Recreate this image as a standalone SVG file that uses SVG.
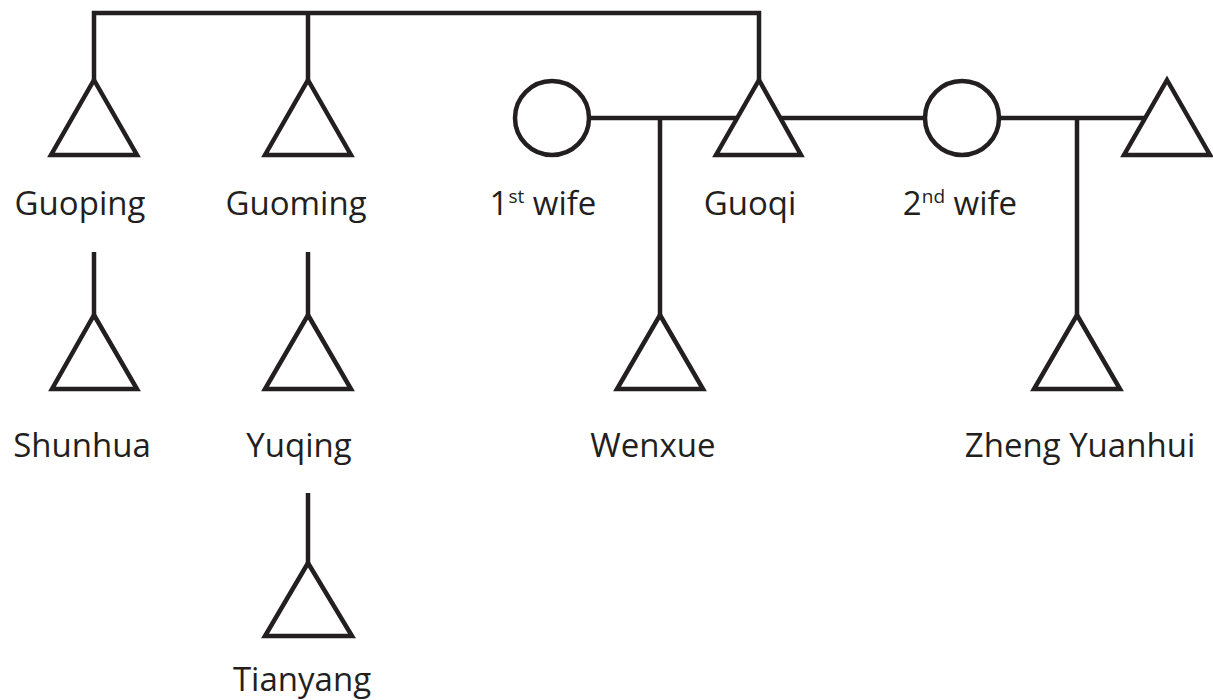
<svg xmlns="http://www.w3.org/2000/svg" width="1213" height="700" viewBox="0 0 1213 700">
  <style>
    .ln { fill: none; stroke: #231f20; stroke-width: 4.5; stroke-linecap: butt; }
    .sym { fill: #ffffff; stroke: #231f20; stroke-width: 4.5; stroke-linejoin: miter; }
    .lbl { font-family: "Open Sans", "Noto Sans", sans-serif; font-size: 33px; fill: #231f20; text-anchor: middle; }
    .sup { font-size: 19px; }
  </style>
  <rect width="1213" height="700" fill="#ffffff"/>

  <!-- kinship lines -->
  <g id="connectors">
    <polyline class="ln" points="94,80 94,13 759,13 759,80"/>
    <line class="ln" x1="308" y1="13" x2="308" y2="80"/>
    <line class="ln" x1="590" y1="118" x2="1150" y2="118"/>
    <line class="ln" x1="660" y1="118" x2="660" y2="315"/>
    <line class="ln" x1="1077" y1="118" x2="1077" y2="315"/>
    <line class="ln" x1="94" y1="252" x2="94" y2="315"/>
    <line class="ln" x1="308" y1="252" x2="308" y2="315"/>
    <line class="ln" x1="308" y1="493" x2="308" y2="563"/>
  </g>

  <g id="guoping">
    <polygon class="sym" points="94,80 137,155 51,155"/>
    <text class="lbl" x="80" y="215">Guoping</text>
  </g>
  <g id="guoming">
    <polygon class="sym" points="308,80 351,155 265,155"/>
    <text class="lbl" x="296" y="215">Guoming</text>
  </g>
  <g id="first-wife">
    <circle class="sym" cx="552" cy="118" r="37"/>
    <text class="lbl" x="543" y="215">1<tspan class="sup" dy="-12">st</tspan><tspan dy="12"> wife</tspan></text>
  </g>
  <g id="guoqi">
    <polygon class="sym" points="759,80 801,155 716,155"/>
    <text class="lbl" x="750" y="215">Guoqi</text>
  </g>
  <g id="second-wife">
    <circle class="sym" cx="962" cy="118" r="37"/>
    <text class="lbl" x="960" y="215">2<tspan class="sup" dy="-12">nd</tspan><tspan dy="12"> wife</tspan></text>
  </g>
  <g id="second-husband">
    <polygon class="sym" points="1167,80 1210,155 1124,155"/>
  </g>
  <g id="shunhua">
    <polygon class="sym" points="94,315 137,389 52,389"/>
    <text class="lbl" x="82" y="457">Shunhua</text>
  </g>
  <g id="yuqing">
    <polygon class="sym" points="308,315 351,389 265,389"/>
    <text class="lbl" x="299" y="457">Yuqing</text>
  </g>
  <g id="wenxue">
    <polygon class="sym" points="660,315 703,389 617,389"/>
    <text class="lbl" x="653" y="457">Wenxue</text>
  </g>
  <g id="zheng-yuanhui">
    <polygon class="sym" points="1077,315 1120,389 1034,389"/>
    <text class="lbl" x="1080" y="457">Zheng Yuanhui</text>
  </g>
  <g id="tianyang">
    <polygon class="sym" points="308,563 352,636 265,636"/>
    <text class="lbl" x="302" y="691">Tianyang</text>
  </g>
</svg>
